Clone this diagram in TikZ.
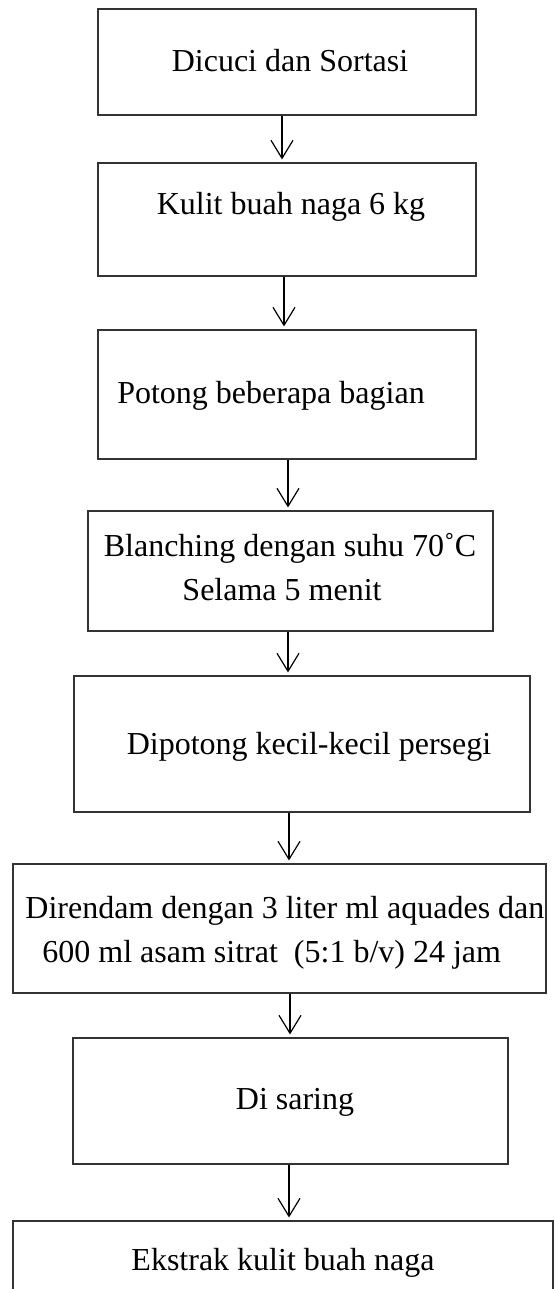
\documentclass[tikz,border=0pt]{standalone}
\usepackage{fontspec}
\setmainfont{Liberation Serif}
\usetikzlibrary{arrows.meta,fit}
\begin{document}
\begin{tikzpicture}[x=0.5pt,y=-0.5pt,
  box/.style={draw=black!80,line width=0.55pt,inner sep=0pt,rectangle},
  txt/.style={inner sep=0pt,font=\fontsize{16pt}{22pt}\selectfont},
  arr/.style={draw=black,line width=0.6pt,-{Straight Barb[length=9pt,width=11pt]},shorten >=1.5pt}]
\useasboundingbox (0,0) rectangle (555,1289);
\clip (0,0) rectangle (555,1289);
% boxes
\node[box,fit={(98,9) (476,115)}] (b1) {};
\node[box,fit={(98,163) (476,276)}] (b2) {};
\node[box,fit={(98,330) (476,459)}] (b3) {};
\node[box,fit={(88,511) (493,631)}] (b4) {};
\node[box,fit={(74,676) (530,812)}] (b5) {};
\node[box,fit={(13,864) (546,993)}] (b6) {};
\node[box,fit={(73,1038) (508,1164)}] (b7) {};
\node[box,fit={(13,1221) (553,1330)}] (b8) {};
% texts
\node[txt,anchor=base] (t1) at (290,72) {Dicuci dan Sortasi};
\node[txt,anchor=base] (t2) at (291,215) {Kulit buah naga 6 kg};
\node[txt,anchor=base] (t3) at (271,403) {Potong beberapa bagian};
\node[txt,anchor=base,align=center] (t4) at (290,600) {Blanching dengan suhu 70˚C\\Selama 5 menit\hspace*{8pt}};
\node[txt,anchor=base] (t5) at (309,754) {Dipotong kecil-kecil persegi};
\node[txt,anchor=base west,align=left] (t6) at (25,962) {Direndam dengan 3 liter ml aquades dan\\\hspace*{8.5pt}600 ml asam sitrat\ \ (5:1 b/v) 24 jam};
\node[txt,anchor=base] (t7) at (295,1109) {Di saring};
\node[txt,anchor=base] (t8) at (283,1270) {Ekstrak kulit buah naga};
% arrow columns
\coordinate (c1) at (282,0);
\coordinate (c2) at (284,0);
\coordinate (c3) at (288,0);
\coordinate (c4) at (288,0);
\coordinate (c5) at (289,0);
\coordinate (c6) at (290,0);
\coordinate (c7) at (289,0);
\draw[arr] (b1.south -| c1) -- (b2.north -| c1);
\draw[arr] (b2.south -| c2) -- (b3.north -| c2);
\draw[arr] (b3.south -| c3) -- (b4.north -| c3);
\draw[arr] (b4.south -| c4) -- (b5.north -| c4);
\draw[arr] (b5.south -| c5) -- (b6.north -| c5);
\draw[arr] (b6.south -| c6) -- (b7.north -| c6);
\draw[arr] (b7.south -| c7) -- (b8.north -| c7);
\end{tikzpicture}
\end{document}
